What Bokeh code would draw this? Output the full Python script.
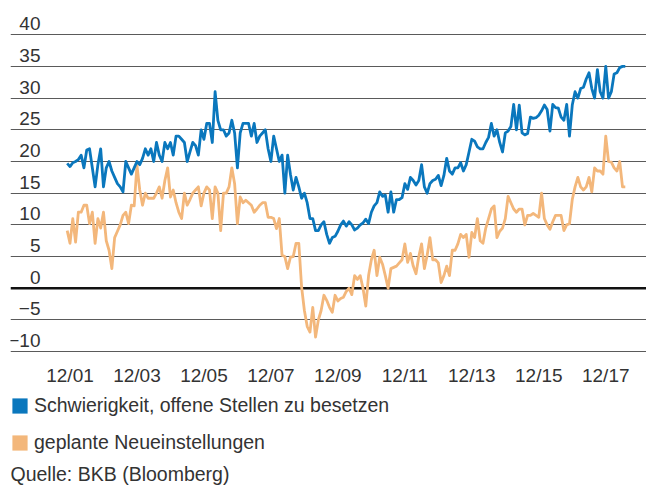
from bokeh.plotting import figure
from bokeh.models import (ColumnDataSource, FixedTicker, Span, Legend, LegendItem,
                          Label, Grid)
from bokeh.core.properties import value
from bokeh.embed import file_html
from bokeh.resources import INLINE

# ---------------- data (monthly, starting Nov 2001) ----------------
schwierigkeit = [
    19.7, 19.2, 19.8, 20.0, 20.3, 21.0, 19.0, 21.8, 22.0, 19.0,
    16.0, 19.5, 22.0, 16.0, 19.0, 20.0, 18.5, 17.5, 16.5, 16.0,
    15.2, 20.0, 19.0, 18.0, 19.0, 20.0, 19.5, 20.5, 22.0, 21.0,
    22.0, 20.0, 23.0, 21.0, 20.0, 23.0, 22.0, 23.0, 21.0, 24.0,
    24.0, 23.5, 23.0, 20.0, 21.5, 23.0, 22.5, 21.0, 25.0, 23.5,
    26.0, 26.0, 23.0, 31.0, 26.5, 25.0, 25.0, 24.0, 24.5, 26.5,
    24.5, 19.0, 24.5, 26.0, 26.0, 26.0, 24.0, 26.0, 23.0, 24.0,
    24.5, 25.0, 22.0, 20.0, 24.0, 22.0, 20.0, 21.0, 15.0, 21.0,
    18.0, 15.5, 17.5, 16.0, 14.2, 15.0, 13.5, 11.0, 11.0, 9.1,
    9.1, 10.0, 10.5, 8.5, 7.1, 8.0, 8.2, 9.0, 10.0, 10.6,
    9.8, 10.5, 10.0, 9.2, 9.5, 10.0, 10.3, 10.9, 10.2, 12.0,
    13.0, 13.5, 15.2, 14.5, 14.7, 12.0, 15.2, 12.0, 14.0, 14.0,
    14.3, 16.5, 15.6, 17.5, 17.0, 16.3, 17.0, 19.5, 16.0, 15.0,
    16.5, 17.0, 17.2, 17.8, 16.2, 17.8, 20.5, 18.5, 18.0, 19.0,
    19.0, 19.8, 18.5, 19.5, 21.5, 23.5, 23.2, 22.3, 22.0, 22.0,
    23.0, 23.8, 26.0, 24.0, 25.0, 23.0, 21.5, 24.5, 24.8, 25.5,
    29.0, 25.0, 28.9, 24.5, 24.2, 24.4, 27.0, 26.8, 26.9, 27.3,
    28.0, 28.9, 28.2, 24.8, 29.0, 28.5, 28.4, 27.0, 26.5, 29.0,
    24.0, 28.9, 31.0, 30.0, 31.5, 31.7, 33.0, 34.0, 31.5, 30.0,
    34.5, 31.0, 30.0, 35.0, 30.0, 31.0, 33.8, 34.0, 34.8, 35.0, 35.0,
]

neueinstellungen = [
    9.1, 7.1, 11.0, 7.3, 12.0, 12.0, 13.1, 13.1, 10.2, 12.0,
    7.1, 11.0, 9.5, 12.0, 7.5, 6.0, 3.1, 8.0, 9.0, 10.0,
    11.5, 12.0, 10.2, 13.1, 13.0, 19.4, 15.5, 13.1, 15.0, 14.2,
    14.2, 14.2, 15.0, 16.0, 14.2, 17.0, 19.0, 14.4, 15.5, 13.5,
    12.0, 11.0, 15.0, 13.1, 14.0, 15.0, 15.5, 16.0, 13.0, 15.0,
    16.0, 15.5, 11.0, 16.0, 15.0, 9.1, 15.0, 15.0, 16.0, 19.0,
    16.5, 10.2, 14.4, 13.5, 13.9, 13.5, 13.1, 12.0, 12.5, 13.1,
    13.5, 13.5, 11.2, 11.2, 11.0, 9.4, 11.0, 5.2, 5.0, 3.1,
    4.9, 5.0, 7.1, 7.1, 0.2, -3.5, -6.0, -6.9, -3.0, -7.7,
    -5.0, -3.5, -1.1, -1.9, -3.0, -3.8, -1.1, -2.0, -1.6, -1.4,
    -0.5, 0.0, -1.0, 2.0, 1.4, 2.0, 0.0, -2.8, 2.0, 4.5,
    6.0, 2.0, 4.9, 3.8, 2.0, 0.0, 3.1, 3.3, 3.5, 4.0,
    4.5, 7.0, 4.1, 5.5, 3.5, 2.3, 5.0, 7.0, 3.1, 5.2,
    8.0, 4.5, 4.5, 4.0, 0.9, 2.0, 3.5, 2.0, 6.0, 6.0,
    7.0, 8.5, 8.0, 8.5, 4.9, 8.8, 8.0, 11.0, 7.5, 7.1,
    9.5, 11.0, 12.5, 13.0, 8.0, 9.0, 9.5, 11.0, 14.5, 13.5,
    12.5, 12.0, 12.5, 12.5, 10.0, 11.5, 11.5, 11.8, 11.5, 11.2,
    15.0, 11.0, 10.0, 9.3, 10.5, 11.5, 11.5, 11.5, 9.1, 10.0,
    10.2, 14.0, 16.0, 17.5, 16.0, 15.5, 16.0, 17.5, 15.2, 19.0,
    18.5, 18.5, 18.0, 24.0, 20.0, 19.9, 19.0, 18.5, 20.0, 16.0, 16.0,
]

months = list(range(len(schwierigkeit)))          # 0 = Nov 2001
x_tick_months = [1, 25, 49, 73, 97, 121, 145, 169, 193]   # December of odd years
x_tick_labels = ["12/01", "12/03", "12/05", "12/07", "12/09",
                 "12/11", "12/13", "12/15", "12/17"]
y_tick_values = [40, 35, 30, 25, 20, 15, 10, 5, 0, -5, -10]
y_tick_labels = ["40", "35", "30", "25", "20", "15", "10", "5", "0", "\u22125", "\u221210"]

series_names = ["Schwierigkeit, offene Stellen zu besetzen", "geplante Neueinstellungen"]
source_text = "Quelle: BKB (Bloomberg)"

BLUE = "#0a77bd"
ORANGE = "#f3b77b"
TEXT = "#333333"
FONT = "Liberation Sans"

# layout constants (data units of the plotting area)
X0, X1 = -20.32, 207.6          # frame spans the page from x=10 to x=646
Y0, Y1 = -31.26, 45.39          # frame spans the whole page height
YLAB_X = -9.57                  # right edge of the y tick labels
XLAB_Y = -13.68                 # baseline of the x tick labels
SRC_Y = -29.29                  # baseline of the source note

src = ColumnDataSource(data=dict(m=months, s=schwierigkeit, n=neueinstellungen))

p = figure(frame_width=636, frame_height=486,
           x_range=(X0, X1), y_range=(Y0, Y1),
           x_axis_location=None, y_axis_location=None,
           output_backend="svg", toolbar_location=None,
           min_border_left=10, min_border_right=0, min_border_top=0, min_border_bottom=0)
p.outline_line_color = None
p.xgrid.visible = False
p.ygrid.visible = False

grid = Grid(dimension=1, ticker=FixedTicker(ticks=[v for v in y_tick_values if v != 0]),
            grid_line_color="#5a5a5a", grid_line_width=1)
p.add_layout(grid, "center")
p.add_layout(Span(location=0, dimension="width", line_color="#111111",
                  line_width=2.6, level="underlay"))

p.line("m", "n", source=src, line_color=ORANGE, line_width=2.8, line_join="round")
p.line("m", "s", source=src, line_color=BLUE, line_width=2.8, line_join="round")

# zero-width boxes: invisible in the plot, they only supply square legend swatches
sw_b = p.quad(left="m", right="m", top="s", bottom="s", source=src,
              fill_color=BLUE, line_color=None)
sw_o = p.quad(left="m", right="m", top="n", bottom="n", source=src,
              fill_color=ORANGE, line_color=None)

# y tick labels, above their grid lines
ysrc = ColumnDataSource(data=dict(x=[YLAB_X] * len(y_tick_values), y=y_tick_values, t=y_tick_labels))
p.text("x", "y", text="t", source=ysrc, text_align="right", text_baseline="alphabetic",
       y_offset=-11, text_font=value(FONT), text_font_size="19px", text_color=TEXT)

# x tick labels
xsrc = ColumnDataSource(data=dict(x=x_tick_months, y=[XLAB_Y] * len(x_tick_months), t=x_tick_labels))
p.text("x", "y", text="t", source=xsrc, text_align="center", text_baseline="alphabetic",
       text_font=value(FONT), text_font_size="19px", text_color=TEXT)

legend = Legend(items=[LegendItem(label=series_names[0], renderers=[sw_b]),
                       LegendItem(label=series_names[1], renderers=[sw_o])],
                location=(0, 32), orientation="vertical",
                glyph_width=19, glyph_height=19, label_standoff=5, spacing=14,
                padding=0, margin=0, border_line_color=None, background_fill_alpha=0,
                label_text_font=FONT, label_text_font_size="19.5px", label_text_color=TEXT)
p.add_layout(legend, "center")

p.add_layout(Label(x=X0, y=SRC_Y, text=source_text, text_baseline="alphabetic",
                   text_font=FONT, text_font_size="19.5px", text_color=TEXT))

open("out.html", "w").write(file_html(p, INLINE))
